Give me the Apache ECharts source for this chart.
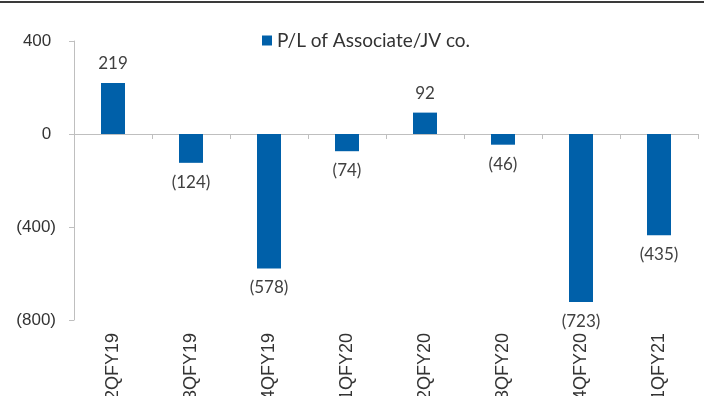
<!DOCTYPE html>
<html>
<head>
    <meta charset="UTF-8">
    <title>P/L of Associate/JV co.</title>
    <script src="https://cdn.jsdelivr.net/npm/echarts@6/dist/echarts.min.js"></script>
    <style>
        html, body { margin: 0; padding: 0; background: #fff; }
        #main { width: 704px; height: 396px; }
    </style>
</head>
<body>
<div id="main"></div>
<script type="text/javascript">
    var quarters = ['2QFY19', '3QFY19', '4QFY19', '1QFY20', '2QFY20', '3QFY20', '4QFY20', '1QFY21'];
    var plValues = [219, -124, -578, -74, 92, -46, -723, -435];
    var seriesName = 'P/L of Associate/JV co.';

    function paren(v) {
        return v < 0 ? '(' + (-v) + ')' : String(v);
    }

    var myChart = echarts.init(document.getElementById('main'));
    var option = {
        animation: false,
        backgroundColor: '#fff',
        graphic: [
            {
                type: 'rect',
                left: 0, top: 1,
                shape: { width: 704, height: 2 },
                style: { fill: '#3a3a3a' }
            }
        ],
        legend: {
            left: 257,
            top: 26,
            icon: 'rect',
            itemWidth: 10,
            itemHeight: 10,
            textStyle: { fontFamily: 'Lato', fontSize: 19, color: '#333' },
            data: [seriesName]
        },
        grid: {
            left: 74,
            right: 6,
            top: 41,
            bottom: 76,
            containLabel: false,
            outerBoundsMode: 'none'
        },
        xAxis: [
            {
                type: 'category',
                data: quarters,
                position: 'bottom',
                axisLine: { onZero: true, lineStyle: { color: '#bfbfbf', width: 1 } },
                axisTick: { show: true, length: 5, lineStyle: { color: '#bfbfbf' } },
                axisLabel: { show: false }
            },
            {
                type: 'category',
                data: quarters,
                position: 'bottom',
                axisLine: { show: false, onZero: false },
                axisTick: { show: false },
                axisLabel: {
                    rotate: 90,
                    margin: 13,
                    fontFamily: 'Liberation Sans',
                    fontSize: 18,
                    color: '#333'
                }
            }
        ],
        yAxis: {
            type: 'value',
            min: -800,
            max: 400,
            interval: 400,
            axisLine: { show: true, lineStyle: { color: '#bfbfbf' } },
            axisTick: { show: true, length: 5, lineStyle: { color: '#bfbfbf' } },
            splitLine: { show: false },
            axisLabel: {
                margin: 18,
                fontFamily: 'Liberation Sans',
                fontSize: 17,
                color: '#333',
                formatter: function (v) {
                    return v < 0 ? paren(v) : v + ' ';
                }
            }
        },
        series: [
            {
                name: seriesName,
                type: 'bar',
                xAxisIndex: 0,
                barWidth: 24,
                itemStyle: { color: '#0060a9' },
                data: plValues.map(function (v) {
                    return {
                        value: v,
                        label: { position: v < 0 ? 'bottom' : 'top' }
                    };
                }),
                label: {
                    show: true,
                    distance: 11,
                    fontFamily: 'Lato',
                    fontSize: 17,
                    color: '#404040',
                    formatter: function (p) {
                        return paren(p.value);
                    }
                }
            }
        ]
    };
    myChart.setOption(option);
</script>
</body>
</html>
